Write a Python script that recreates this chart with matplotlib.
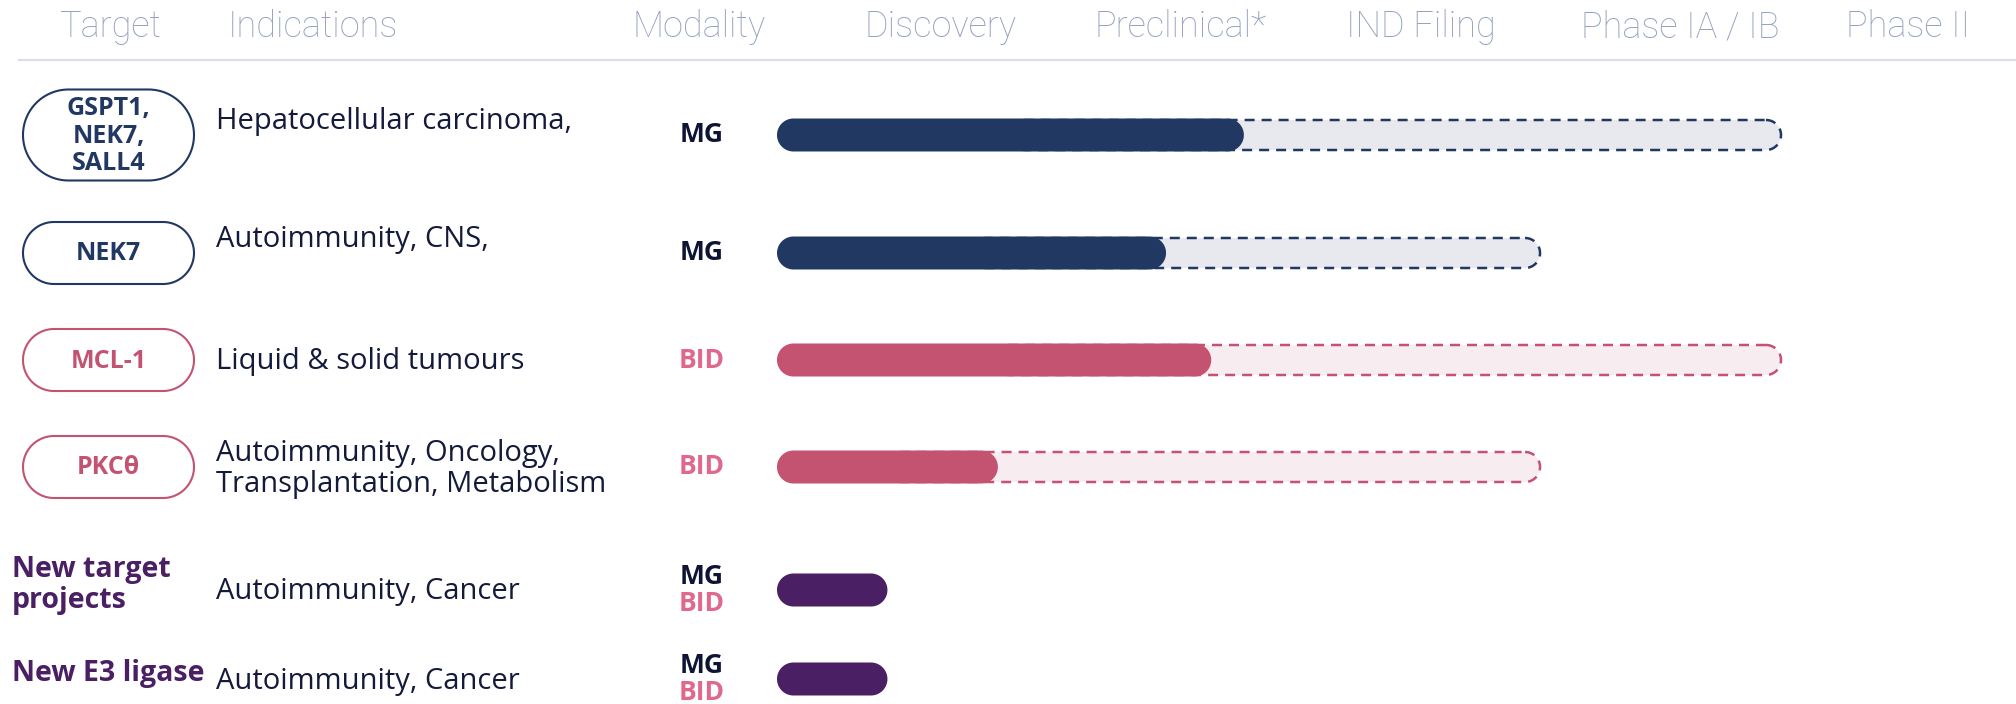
import numpy as np
import matplotlib
matplotlib.use("Agg")
import matplotlib.pyplot as plt
from matplotlib.patches import Polygon

# ---------------- data ----------------
header_labels = ["Target", "Indications", "Modality"]
stage_labels = ["Discovery", "Preclinical*", "IND Filing", "Phase IA / IB", "Phase II"]

targets = ["GSPT1,\nNEK7,\nSALL4", "NEK7", "MCL-1", "PKCθ", "New target\nprojects", "New E3 ligase"]
target_style = ["pill", "pill", "pill", "pill", "plain", "plain"]
indications = ["Hepatocellular carcinoma,\n", "Autoimmunity, CNS,\n", "Liquid & solid tumours",
               "Autoimmunity, Oncology,\nTransplantation, Metabolism",
               "Autoimmunity, Cancer", "Autoimmunity, Cancer"]
modalities = [["MG"], ["MG"], ["BID"], ["BID"], ["MG", "BID"], ["MG", "BID"]]
groups = ["navy", "navy", "pink", "pink", "purple", "purple"]
progress = [1.86, 1.55, 1.73, 0.88, 0.44, 0.44]     # achieved (stage units)
planned = [4.0, 3.04, 4.0, 3.04, None, None]         # planned (stage units)

# ---------------- style ----------------
COL = {"navy": "#213863", "pink": "#C45271", "purple": "#4A1F63"}
LIGHT = {"navy": "#E8E9EF", "pink": "#F7ECF0", "purple": "#EEE8F1"}
TXT_COL = {"MG": "#0E1434", "BID": "#E0688D"}
HEADER_COL = "#95A1C1"
BODY_COL = "#141A3A"

W, H = 2016, 704
row_y = [135, 253, 360, 467, 590, 679]
header_x = [60, 228, 633]
stage_x = [865, 1095, 1346, 1581, 1846]
BAR_X0_PX, STAGE_PX = 777, 251
BAR_H = 30

body_font = "Open Sans"
head_font = "Roboto"


def stadium(x0, x1, yc, h, sx):
    """Stadium (pill) outline; sx = pixels per x data unit, y data in pixels."""
    r = h / 2.0
    rx = r / sx
    rx = min(rx, (x1 - x0) / 2.0)
    t1 = np.linspace(-np.pi / 2, np.pi / 2, 60)
    t2 = np.linspace(np.pi / 2, 3 * np.pi / 2, 60)
    right = np.column_stack([x1 - rx + rx * np.cos(t1), yc + r * np.sin(t1)])
    left = np.column_stack([x0 + rx + rx * np.cos(t2), yc + r * np.sin(t2)])
    return np.vstack([right, left])


fig = plt.figure(figsize=(W / 100, H / 100), dpi=100)
lay = fig.add_axes([0, 0, 1, 1])
lay.set_xlim(0, W)
lay.set_ylim(H, 0)
lay.axis("off")

ax = fig.add_axes([0, 0, 1, 1])
ax.set_xlim(-BAR_X0_PX / STAGE_PX, (W - BAR_X0_PX) / STAGE_PX)
ax.set_ylim(H, 0)
ax.axis("off")
ax.patch.set_alpha(0)

# header
for lab, x in zip(header_labels + stage_labels, header_x + stage_x):
    lay.text(x, 27, lab, ha="left", va="center", fontsize=26, color=HEADER_COL,
             family=head_font, fontweight="light")
lay.plot([19, W], [60, 60], color="#DCDDEA", lw=1.6)

# rows
for i, y in enumerate(row_y):
    g = groups[i]
    c = COL[g]
    # target
    if target_style[i] == "pill":
        nlines = targets[i].count("\n") + 1
        ph = 62 if nlines == 1 else 91
        pill = Polygon(stadium(23, 194, y, ph, 1.0), closed=True,
                       facecolor="white", edgecolor=c, lw=1.5)
        lay.add_patch(pill)
        lay.text(108.5, y + 1, targets[i], ha="center", va="center", fontsize=18,
                 fontweight="bold", color=c, family=body_font, linespacing=1.12)
    else:
        lay.text(12, y - 5, targets[i], ha="left", va="center", fontsize=20.5,
                 fontweight="bold", color=c, family=body_font, linespacing=1.12)
    # indication
    lay.text(216, y + 2, indications[i], ha="left", va="center", fontsize=21,
             color=BODY_COL, family=body_font, linespacing=1.1)
    # modality
    mods = modalities[i]
    if len(mods) == 1:
        lay.text(702, y, mods[0], ha="center", va="center", fontsize=19,
                 fontweight="bold", color=TXT_COL[mods[0]], family=body_font)
    else:
        for k, m in enumerate(mods):
            lay.text(702, y - 13.5 + 27 * k, m, ha="center", va="center", fontsize=19,
                     fontweight="bold", color=TXT_COL[m], family=body_font)
    # bars
    if planned[i] is not None:
        dash = Polygon(stadium(progress[i] * 0.5, planned[i], y, BAR_H, STAGE_PX), closed=True,
                       facecolor=LIGHT[g], edgecolor=c, lw=1.8,
                       linestyle=(0, (4, 2.8)), zorder=2)
        ax.add_patch(dash)
    solid = Polygon(stadium(0, progress[i], y, BAR_H + 3, STAGE_PX), closed=True,
                    facecolor=c, edgecolor="none", zorder=3)
    ax.add_patch(solid)

fig.savefig("out.png", dpi=100, facecolor="white")
